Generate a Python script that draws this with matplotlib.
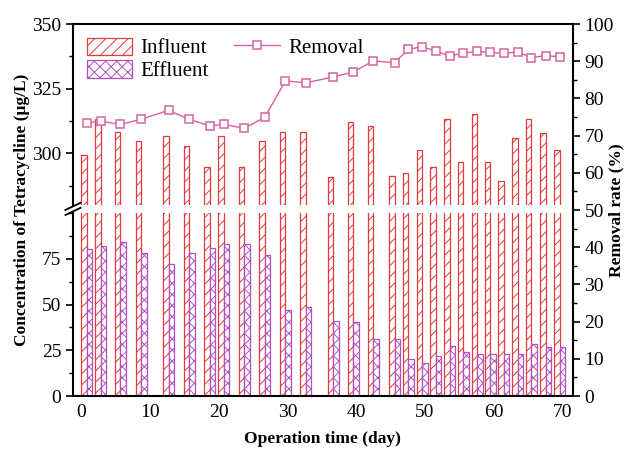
import matplotlib
matplotlib.use("Agg")
import matplotlib.pyplot as plt
from matplotlib.lines import Line2D
from matplotlib.ticker import MultipleLocator

plt.rcParams['font.family'] = ['Liberation Serif', 'DejaVu Serif']
plt.rcParams['hatch.linewidth'] = 0.7

# operation day of each sampling (centre of the bar pair)
days = [0.8, 2.8, 5.7, 8.7, 12.7, 15.7, 18.7, 20.7, 23.7, 26.7, 29.7, 32.7, 36.7,
        39.6, 42.5, 45.6, 47.6, 49.6, 51.6, 53.6, 55.6, 57.6, 59.5, 61.5, 63.5,
        65.5, 67.6, 69.6]
influent = [299.3, 313.2, 308.4, 304.8, 306.7, 302.9, 294.8, 306.7, 294.8, 304.8,
            308.4, 308.4, 290.9, 312.2, 310.6, 291.2, 292.2, 301.3, 294.8, 313.3,
            296.8, 315.1, 296.8, 289.3, 306.0, 313.3, 307.8, 301.3]
effluent = [80.2, 82.0, 83.9, 78.4, 72.0, 78.0, 81.1, 82.8, 82.8, 76.9,
            47.1, 48.9, 41.2, 40.3, 31.1, 31.1, 20.1, 18.3, 22.0, 27.5,
            23.8, 23.1, 22.7, 23.1, 23.1, 28.4, 26.6, 26.6]
removal = [73.4, 73.9, 73.0, 74.4, 76.8, 74.4, 72.6, 73.0, 72.0, 74.9,
           84.7, 84.2, 85.8, 87.1, 90.1, 89.6, 93.2, 93.9, 92.7, 91.5,
           92.1, 92.7, 92.4, 92.1, 92.5, 91.0, 91.5, 91.2]

c_in = '#e0393e'
c_ef = '#b44fbf'
c_rm = '#d6649c'
w = 0.8

fig = plt.figure(figsize=(6.3, 4.49), dpi=100)
L, W = 0.1159, 0.793
ax_lo = fig.add_axes([L, 0.118, W, 0.4076])
ax_hi = fig.add_axes([L, 0.5434, W, 0.4031], sharex=ax_lo)
ax_r = fig.add_axes([L, 0.118, W, 0.8285], sharex=ax_lo)

x_in = [d - w / 2 for d in days]
x_ef = [d + w / 2 for d in days]
for ax in (ax_lo, ax_hi):
    ax.bar(x_in, influent, width=w, facecolor='white', edgecolor=c_in,
           hatch='///', linewidth=0.9, label='Influent')
    ax.bar(x_ef, effluent, width=w, facecolor='white', edgecolor=c_ef,
           hatch='xxx', linewidth=0.9, label='Effluent')

ax_lo.set_ylim(0, 100)
ax_hi.set_ylim(280, 350)
ax_lo.set_xlim(-1.2, 71.5)

ax_lo.yaxis.set_minor_locator(MultipleLocator(12.5))
ax_lo.set_yticks([0, 25, 50, 75])
ax_hi.set_yticks([300, 325, 350])
ax_hi.yaxis.set_minor_locator(MultipleLocator(12.5))
ax_lo.xaxis.set_major_locator(MultipleLocator(10))

for ax in (ax_lo, ax_hi):
    ax.spines['right'].set_visible(False)
    ax.spines['left'].set_linewidth(1.5)
    ax.tick_params(axis='y', which='major', direction='out', length=5, width=1.2,
                   labelsize=14)
    ax.tick_params(axis='y', which='minor', direction='out', length=3, width=1.0)
ax_lo.spines['top'].set_visible(False)
ax_lo.spines['bottom'].set_linewidth(1.5)
ax_hi.spines['bottom'].set_visible(False)
ax_hi.spines['top'].set_visible(False)
ax_hi.tick_params(axis='x', bottom=False, labelbottom=False)
ax_lo.tick_params(axis='x', direction='in', length=0, labelsize=14, pad=6)

# removal rate on its own full-height axis
ax_r.patch.set_visible(False)
ax_r.plot(days, removal, '-s', color=c_rm, markerfacecolor='white',
          markeredgecolor=c_rm, markersize=5.5, markeredgewidth=1.1,
          linewidth=1.0, label='Removal')
ax_r.set_ylim(0, 100)
ax_r.yaxis.tick_right()
ax_r.yaxis.set_major_locator(MultipleLocator(10))
ax_r.yaxis.set_minor_locator(MultipleLocator(5))
ax_r.tick_params(axis='y', which='major', direction='out', length=5, width=1.2,
                 labelsize=14)
ax_r.tick_params(axis='y', which='minor', direction='out', length=3, width=1.0)
ax_r.tick_params(axis='x', bottom=False, labelbottom=False)
ax_r.spines['left'].set_visible(False)
ax_r.spines['bottom'].set_visible(False)
ax_r.spines['right'].set_linewidth(1.5)
ax_r.spines['top'].set_linewidth(1.5)

ax_lo.set_xlabel('Operation time (day)', fontsize=12.5, fontweight='bold', labelpad=7)
mid = 0.118 + 0.8285 / 2
fig.text(0.035, mid, 'Concentration of Tetracycline (μg/L)',
         rotation=90, ha='center', va='center', fontsize=12.5, fontweight='bold')
fig.text(0.978, mid, 'Removal rate (%)',
         rotation=90, ha='center', va='center', fontsize=12.5, fontweight='bold')

# axis break marks on the left spine
for yb in (0.5434 - 0.003, 0.5262 + 0.003):
    fig.add_artist(Line2D([L - 0.012, L + 0.012], [yb - 0.008, yb + 0.008],
                          color='black', linewidth=1.3))

h1, l1 = ax_hi.get_legend_handles_labels()
h2, l2 = ax_r.get_legend_handles_labels()
ax_r.legend(h1 + h2, l1 + l2, loc='upper left', ncol=2, frameon=False,
            fontsize=15, handlelength=2.2, handleheight=0.9, borderaxespad=0.25,
            columnspacing=1.2, labelspacing=0.1, handletextpad=0.4)

fig.savefig('out.png', dpi=100)
